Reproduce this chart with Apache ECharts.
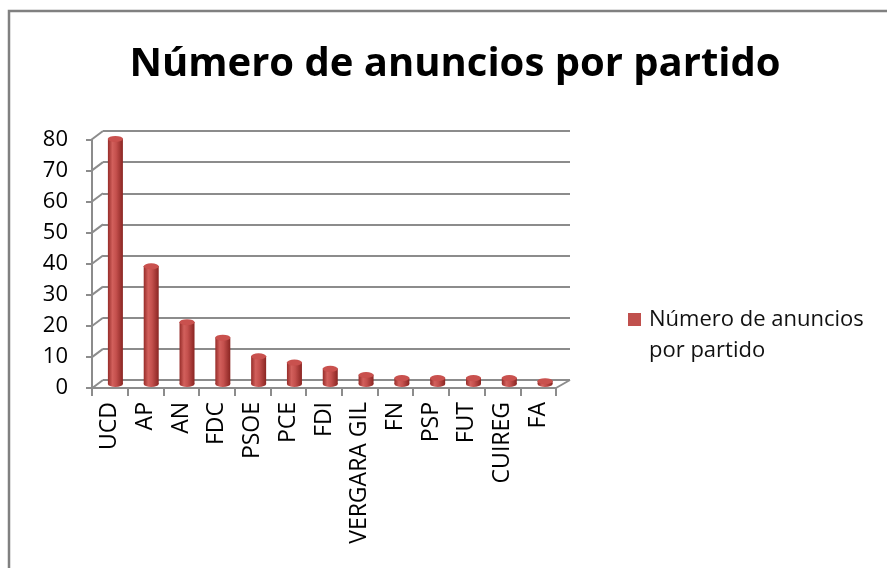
<!DOCTYPE html>
<html>
<head>
<meta charset="utf-8">
<script src="https://cdn.jsdelivr.net/npm/echarts@6/dist/echarts.min.js"></script>
<style>html,body{margin:0;padding:0;background:#fff}#c{width:887px;height:568px}</style>
</head>
<body>
<div id="c"></div>
<script>
var categories = ['UCD','AP','AN','FDC','PSOE','PCE','FDI','VERGARA GIL','FN','PSP','FUT','CUIREG','FA'];
var values = [79,38,20,15,9,7,5,3,2,2,2,2,1];
var yTicks = [0,10,20,30,40,50,60,70,80];
var seriesName = 'Número de anuncios por partido';
var titleText = 'Número de anuncios por partido';

var chart = echarts.init(document.getElementById('c'), null, {renderer:'canvas'});
var FONT = '"Open Sans", sans-serif';
var grayLine = '#8c8c8c';
var cyl = new echarts.graphic.LinearGradient(0,0,1,0,[
  {offset:0,color:'#962c29'},
  {offset:0.3,color:'#d2605c'},
  {offset:0.55,color:'#c4504d'},
  {offset:1,color:'#8a2522'}
]);
chart.setOption({
  animation:false,
  backgroundColor:'#fff',
  graphic:[
    {type:'rect', shape:{x:9,y:11,width:900,height:600}, style:{fill:null, stroke:'#808080', lineWidth:2.5}, z:0},
    {type:'text', x:455, y:45, style:{text:titleText, font:'bold 40px "Open Sans", sans-serif', fill:'#000', textAlign:'center', textVerticalAlign:'top'}, z:5}
  ],
  legend:{
    data:[seriesName], left:623, top:268, orient:'vertical',
    icon:'rect', itemWidth:13, itemHeight:13, itemGap:10,
    itemStyle:{color:'#c0504d'},
    formatter:function(){ return '\nNúmero de anuncios\npor partido'; },
    textStyle:{fontFamily:FONT, fontSize:22, color:'#111', lineHeight:31, padding:[0,0,0,3]}
  },
  grid:[
    {left:103, top:131, width:467, height:249},
    {left:92, top:140, width:464, height:248},
    {left:97.5, top:135.5, width:465.5, height:248.5}
  ],
  xAxis:[
    {gridIndex:0, type:'value', min:0, max:1, show:false},
    {gridIndex:1, type:'category', data:categories, boundaryGap:true,
     axisLine:{show:true, lineStyle:{color:grayLine, width:2}},
     axisTick:{show:true, length:8, lineStyle:{color:grayLine, width:2}},
     axisLabel:{rotate:90, interval:0, margin:14, fontFamily:FONT, fontSize:23, color:'#000'}},
    {gridIndex:2, type:'category', data:categories, show:false}
  ],
  yAxis:[
    {gridIndex:0, type:'value', min:0, max:80, interval:10,
     axisLine:{show:false}, axisTick:{show:false}, axisLabel:{show:false},
     splitLine:{show:true, lineStyle:{color:grayLine, width:2}}},
    {gridIndex:1, type:'value', min:0, max:80, interval:10,
     axisLine:{show:true, lineStyle:{color:grayLine, width:2}},
     axisTick:{show:true, length:6, lineStyle:{color:grayLine, width:2}},
     axisLabel:{margin:24, fontFamily:FONT, fontSize:22, color:'#000'},
     splitLine:{show:false}},
    {gridIndex:2, type:'value', min:0, max:80, interval:10, show:false, splitLine:{show:false}}
  ],
  series:[
    {type:'custom', xAxisIndex:0, yAxisIndex:0, data:yTicks, silent:true, z:1,
     renderItem:function(params, api){
       var v = api.value(0);
       var p = api.coord([0, v]);
       var children = [{type:'line', shape:{x1:p[0]-12, y1:p[1]+9, x2:p[0], y2:p[1]}, style:{stroke:grayLine, lineWidth:2}}];
       if (v === 0) {
         var q = api.coord([1, 0]);
         children.push({type:'line', shape:{x1:q[0]-14, y1:q[1]+8, x2:q[0], y2:q[1]}, style:{stroke:grayLine, lineWidth:2}});
       }
       return {type:'group', children:children};
     }},
    {type:'bar', name:seriesName, xAxisIndex:2, yAxisIndex:2, data:values, barWidth:15,
     itemStyle:{color:cyl}, z:3},
    {type:'pictorialBar', xAxisIndex:2, yAxisIndex:2, data:values, symbol:'circle',
     symbolSize:[15,6], symbolPosition:'start', symbolOffset:[0,'50%'],
     itemStyle:{color:cyl}, z:2, silent:true},
    {type:'pictorialBar', xAxisIndex:2, yAxisIndex:2, data:values, symbol:'circle',
     symbolSize:[15,6], symbolPosition:'end', symbolOffset:[0,'-50%'],
     itemStyle:{color:'#c9514e', borderColor:'#8f2b28', borderWidth:1}, z:4, silent:true}
  ],
  color:['#c0504d']
});
</script>
</body>
</html>
